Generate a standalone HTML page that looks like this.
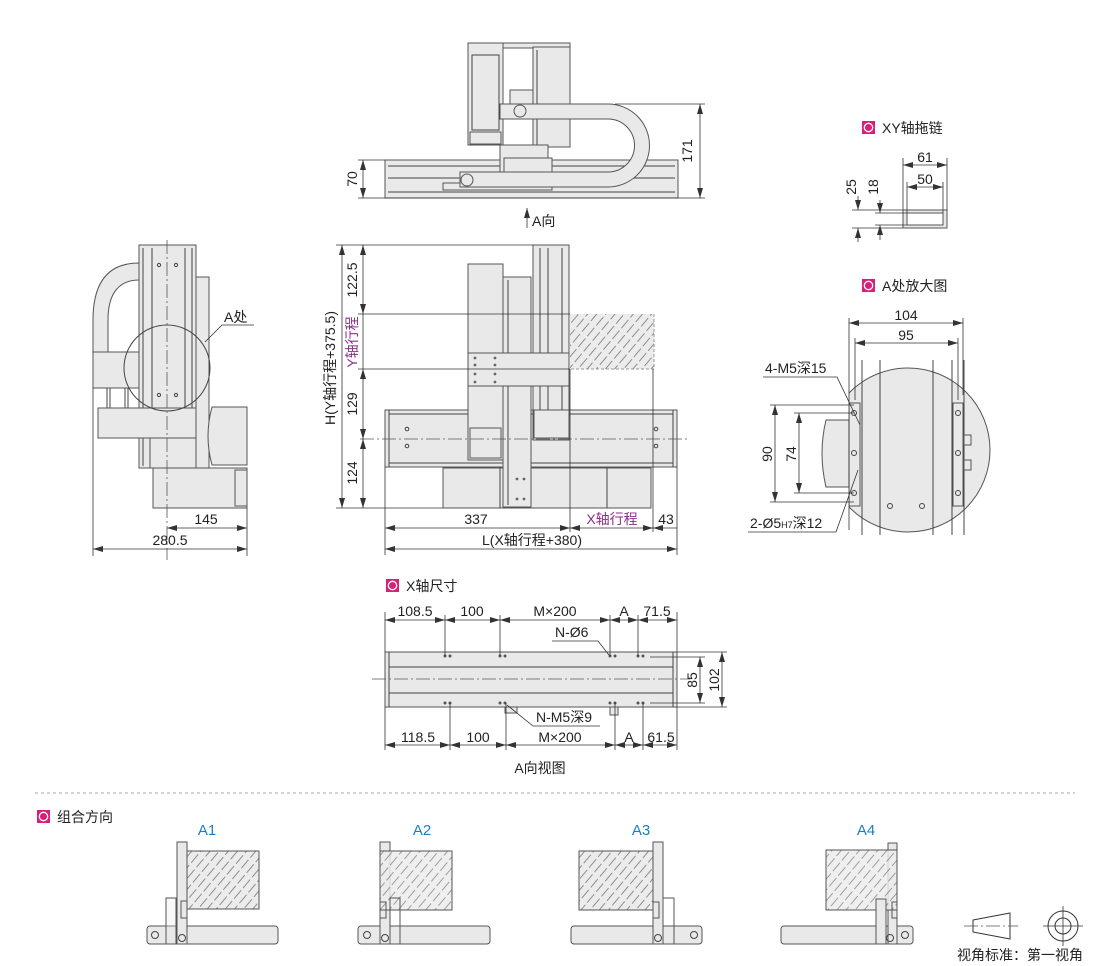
<!DOCTYPE html>
<html><head><meta charset="utf-8">
<style>
html,body{margin:0;padding:0;background:#fff;}
svg{display:block;}
text{font-family:"Liberation Sans","Noto Sans CJK SC",sans-serif;font-size:14px;fill:#222;}
.p{fill:#8b2f8b;}
.b{fill:#1a7fc1;font-size:15px;}
.s{stroke:#444;stroke-width:1;fill:none;}
.f{stroke:#555;stroke-width:1;fill:#e9e9e9;}
.d{stroke:#333;stroke-width:0.8;fill:none;}
.c{stroke:#555;stroke-width:0.8;fill:none;stroke-dasharray:14 3 2 3;}
</style></head><body>
<svg width="1110" height="966" viewBox="0 0 1110 966" xmlns="http://www.w3.org/2000/svg">
<defs>
<marker id="a" viewBox="0 0 10 6" refX="10" refY="3" markerWidth="10" markerHeight="6" orient="auto-start-reverse" markerUnits="userSpaceOnUse"><path d="M0,0L10,3L0,6z" fill="#333"/></marker>
<pattern id="h" width="7" height="14" patternUnits="userSpaceOnUse" patternTransform="rotate(40)"><rect width="7" height="14" fill="#ececec"/><line x1="1" y1="0" x2="1" y2="14" stroke="#666" stroke-width="0.7" stroke-dasharray="6 3"/></pattern>
<g id="tt"><rect width="13" height="13" fill="#d8207a"/><circle cx="6.5" cy="6.5" r="4.2" fill="none" stroke="#fff" stroke-width="1.3"/></g>
</defs>

<!-- ============ TOP VIEW ============ -->
<rect x="385" y="160" width="293" height="38" class="f"/>
<line x1="388" y1="166" x2="675" y2="166" class="s"/>
<line x1="388" y1="178" x2="675" y2="178" class="s"/>
<line x1="388" y1="192" x2="675" y2="192" class="s"/>
<rect x="443" y="183" width="109" height="7" class="f"/>
<rect x="468" y="43" width="102" height="5" class="f"/>
<rect x="468" y="43" width="35" height="102" class="f"/>
<rect x="472" y="55" width="27" height="75" class="s"/>
<rect x="470" y="132" width="31" height="12" class="f"/>
<rect x="533" y="47" width="37" height="100" class="f"/>
<line x1="537" y1="50" x2="537" y2="145" class="s"/>
<rect x="510" y="90" width="23" height="25" class="f"/>
<rect x="500" y="145" width="48" height="27" class="f"/>
<rect x="504" y="158" width="48" height="14" class="f"/>
<path d="M500,104 L608,104 A41.5,41.5 0 0 1 608,187 L460,187 L460,172 L608,172 A26.5,26.5 0 0 0 608,119 L500,119 Z" class="f"/>
<circle cx="520" cy="111" r="6" class="f"/>
<circle cx="467" cy="180" r="6" class="f"/>
<line x1="615" y1="104" x2="705" y2="104" class="d"/>
<line x1="358" y1="198" x2="705" y2="198" class="d"/>
<line x1="358" y1="160" x2="385" y2="160" class="d"/>
<line x1="700" y1="104" x2="700" y2="198" class="d" marker-start="url(#a)" marker-end="url(#a)"/>
<line x1="363" y1="160" x2="363" y2="198" class="d" marker-start="url(#a)" marker-end="url(#a)"/>
<text transform="translate(692,151) rotate(-90)" text-anchor="middle">171</text>
<text transform="translate(357,179) rotate(-90)" text-anchor="middle">70</text>
<line x1="527" y1="228" x2="527" y2="208" class="d" marker-end="url(#a)"/>
<text x="532" y="226">A向</text>

<!-- ============ FRONT VIEW ============ -->
<rect x="570" y="314" width="84" height="55" fill="url(#h)"/>
<path d="M654,314V369H570" stroke="#999" stroke-dasharray="3 2" fill="none"/>
<rect x="385" y="410" width="292" height="57" class="f"/>
<line x1="389" y1="414" x2="673" y2="414" class="s"/>
<line x1="389" y1="463" x2="673" y2="463" class="s"/>
<line x1="389" y1="410" x2="389" y2="467" class="s"/>
<line x1="673" y1="410" x2="673" y2="467" class="s"/>
<rect x="443" y="468" width="208" height="40" class="f"/>
<line x1="607" y1="468" x2="607" y2="508" class="s"/>
<line x1="500" y1="468" x2="500" y2="508" class="s"/>
<rect x="510" y="468" width="21" height="40" class="f"/>
<rect x="533" y="245" width="36" height="195" class="f"/>
<line x1="540" y1="248" x2="540" y2="438" class="s"/>
<line x1="548" y1="248" x2="548" y2="438" class="s"/>
<line x1="562" y1="248" x2="562" y2="438" class="s"/>
<rect x="534" y="410" width="35" height="28" class="f"/>
<rect x="503" y="277" width="28" height="230" class="f"/>
<line x1="508" y1="280" x2="508" y2="505" class="s"/>
<rect x="468" y="264" width="35" height="196" class="f"/>
<rect x="470" y="428" width="31" height="30" class="f"/>
<rect x="468" y="353" width="101" height="33" class="f"/>
<g fill="#666"><circle cx="475" cy="358" r="1.4"/><circle cx="495" cy="358" r="1.4"/><circle cx="475" cy="365" r="1.4"/><circle cx="495" cy="365" r="1.4"/><circle cx="475" cy="374" r="1.4"/><circle cx="495" cy="374" r="1.4"/><circle cx="475" cy="382" r="1.4"/><circle cx="495" cy="382" r="1.4"/>
<circle cx="517" cy="479" r="1.4"/><circle cx="524" cy="479" r="1.4"/><circle cx="517" cy="499" r="1.4"/><circle cx="524" cy="499" r="1.4"/></g>
<g class="s"><circle cx="407" cy="429" r="1.8"/><circle cx="407" cy="446" r="1.8"/><circle cx="656" cy="429" r="1.8"/><circle cx="656" cy="446" r="1.8"/></g>
<line x1="360" y1="439" x2="690" y2="439" class="c"/>
<line x1="336" y1="245" x2="533" y2="245" class="d"/>
<line x1="358" y1="314" x2="570" y2="314" class="d"/>
<line x1="358" y1="369" x2="570" y2="369" class="d"/>
<line x1="336" y1="508" x2="443" y2="508" class="d"/>
<line x1="342" y1="245" x2="342" y2="508" class="d" marker-start="url(#a)" marker-end="url(#a)"/>
<line x1="363" y1="245" x2="363" y2="314" class="d" marker-start="url(#a)" marker-end="url(#a)"/>
<line x1="363" y1="314" x2="363" y2="369" class="d"/>
<line x1="363" y1="369" x2="363" y2="439" class="d" marker-start="url(#a)" marker-end="url(#a)"/>
<line x1="363" y1="439" x2="363" y2="508" class="d" marker-start="url(#a)" marker-end="url(#a)"/>
<text transform="translate(335,368) rotate(-90)" text-anchor="middle">H(Y轴行程+375.5)</text>
<text transform="translate(357,280) rotate(-90)" text-anchor="middle">122.5</text>
<text class="p" transform="translate(357,342) rotate(-90)" text-anchor="middle">Y轴行程</text>
<text transform="translate(357,404) rotate(-90)" text-anchor="middle">129</text>
<text transform="translate(357,473) rotate(-90)" text-anchor="middle">124</text>
<line x1="385" y1="467" x2="385" y2="555" class="d"/>
<line x1="570" y1="369" x2="570" y2="532" class="d"/>
<line x1="653" y1="369" x2="653" y2="532" class="d"/>
<line x1="677" y1="467" x2="677" y2="555" class="d"/>
<line x1="385" y1="528" x2="570" y2="528" class="d" marker-start="url(#a)" marker-end="url(#a)"/>
<line x1="570" y1="528" x2="653" y2="528" class="d" marker-start="url(#a)" marker-end="url(#a)"/>
<line x1="653" y1="528" x2="677" y2="528" class="d" marker-start="url(#a)"/>
<line x1="385" y1="549" x2="677" y2="549" class="d" marker-start="url(#a)" marker-end="url(#a)"/>
<text x="476" y="524" text-anchor="middle">337</text>
<text class="p" x="612" y="524" text-anchor="middle">X轴行程</text>
<text x="666" y="524" text-anchor="middle">43</text>
<text x="532" y="545" text-anchor="middle">L(X轴行程+380)</text>

<!-- ============ SIDE VIEW ============ -->
<path d="M139,263 C110,263 93,280 93,320 L93,352 L108,352 L108,320 C108,292 120,280 139,280 Z" class="f"/>
<rect x="93" y="352" width="46" height="36" class="f"/>
<line x1="107" y1="388" x2="107" y2="408" class="s"/><line x1="110" y1="388" x2="110" y2="408" class="s"/>
<line x1="125" y1="388" x2="125" y2="408" class="s"/><line x1="128" y1="388" x2="128" y2="408" class="s"/>
<rect x="196" y="277" width="13" height="191" class="f"/>
<rect x="139" y="245" width="57" height="223" class="f"/>
<line x1="143" y1="248" x2="143" y2="466" class="s"/>
<line x1="152" y1="248" x2="152" y2="466" class="s"/>
<line x1="185" y1="248" x2="185" y2="466" class="s"/>
<line x1="192" y1="248" x2="192" y2="466" class="s"/>
<rect x="98" y="408" width="98" height="30" class="f"/>
<rect x="150" y="438" width="46" height="30" class="f"/>
<rect x="153" y="468" width="94" height="40" class="f"/>
<rect x="235" y="470" width="12" height="36" class="f"/>
<path d="M212,407 H247 V465 H212 Q204,436 212,407 Z" class="f"/>
<g class="s"><circle cx="159" cy="265" r="1.6"/><circle cx="176" cy="265" r="1.6"/><circle cx="159" cy="395" r="1.6"/><circle cx="176" cy="395" r="1.6"/></g>
<circle cx="167" cy="368" r="43" class="s"/>
<line x1="167" y1="240" x2="167" y2="560" class="c"/>
<path d="M205,342 L222,325 L254,325" class="d"/>
<text x="224" y="322">A处</text>
<line x1="93" y1="388" x2="93" y2="556" class="d"/>
<line x1="247" y1="508" x2="247" y2="556" class="d"/>
<line x1="167" y1="528" x2="247" y2="528" class="d" marker-start="url(#a)" marker-end="url(#a)"/>
<line x1="93" y1="549" x2="247" y2="549" class="d" marker-start="url(#a)" marker-end="url(#a)"/>
<text x="206" y="524" text-anchor="middle">145</text>
<text x="170" y="545" text-anchor="middle">280.5</text>

<!-- ============ XY CHAIN ============ -->
<use href="#tt" x="862" y="121"/>
<text x="882" y="133">XY轴拖链</text>
<rect x="903" y="210" width="44" height="18" class="f"/>
<rect x="907" y="213" width="36" height="12" fill="#fff" stroke="#555"/>
<line x1="903" y1="158" x2="903" y2="210" class="d"/>
<line x1="947" y1="158" x2="947" y2="210" class="d"/>
<line x1="907" y1="182" x2="907" y2="213" class="d"/>
<line x1="943" y1="182" x2="943" y2="213" class="d"/>
<line x1="903" y1="165" x2="947" y2="165" class="d" marker-start="url(#a)" marker-end="url(#a)"/>
<line x1="907" y1="187" x2="943" y2="187" class="d" marker-start="url(#a)" marker-end="url(#a)"/>
<text x="925" y="162" text-anchor="middle">61</text>
<text x="925" y="184" text-anchor="middle">50</text>
<line x1="852" y1="210" x2="903" y2="210" class="d"/>
<line x1="852" y1="228" x2="903" y2="228" class="d"/>
<line x1="875" y1="213" x2="907" y2="213" class="d"/>
<line x1="875" y1="225" x2="907" y2="225" class="d"/>
<line x1="858" y1="196" x2="858" y2="210" class="d" marker-end="url(#a)"/><line x1="858" y1="242" x2="858" y2="228" class="d" marker-end="url(#a)"/>
<line x1="880" y1="200" x2="880" y2="213" class="d" marker-end="url(#a)"/><line x1="880" y1="240" x2="880" y2="225" class="d" marker-end="url(#a)"/>
<text transform="translate(856,187) rotate(-90)" text-anchor="middle">25</text>
<text transform="translate(878,187) rotate(-90)" text-anchor="middle">18</text>

<!-- ============ A DETAIL ============ -->
<use href="#tt" x="862" y="279"/>
<text x="882" y="291">A处放大图</text>
<path d="M849,420 H826 Q818,453 826,487 H849 Z" class="f"/>
<clipPath id="cc"><rect x="849" y="360" width="150" height="175"/></clipPath>
<g clip-path="url(#cc)">
<circle cx="908" cy="450" r="82" class="f"/>
<line x1="862" y1="360" x2="862" y2="535" class="s"/>
<line x1="880" y1="360" x2="880" y2="535" class="s"/>
<line x1="933" y1="360" x2="933" y2="535" class="s"/>
<line x1="952" y1="360" x2="952" y2="535" class="s"/>
<line x1="964" y1="360" x2="964" y2="535" class="s"/>
<rect x="849" y="403" width="11" height="103" class="f"/>
<rect x="953" y="403" width="10" height="103" class="f"/>
<rect x="964" y="435" width="7" height="10" class="f"/><rect x="964" y="460" width="7" height="10" class="f"/>
<g class="s"><circle cx="854" cy="413" r="2.5"/><circle cx="854" cy="453" r="2.5"/><circle cx="854" cy="493" r="2.5"/><circle cx="958" cy="413" r="2.5"/><circle cx="958" cy="453" r="2.5"/><circle cx="958" cy="493" r="2.5"/><circle cx="890" cy="506" r="2.5"/><circle cx="922" cy="506" r="2.5"/></g>
</g>
<line x1="849" y1="318" x2="849" y2="530" class="d"/>
<line x1="963" y1="318" x2="963" y2="395" class="d"/>
<line x1="855" y1="338" x2="855" y2="400" class="d"/>
<line x1="958" y1="338" x2="958" y2="400" class="d"/>
<line x1="849" y1="323" x2="963" y2="323" class="d" marker-start="url(#a)" marker-end="url(#a)"/>
<line x1="855" y1="343" x2="958" y2="343" class="d" marker-start="url(#a)" marker-end="url(#a)"/>
<text x="906" y="320" text-anchor="middle">104</text>
<text x="906" y="340" text-anchor="middle">95</text>
<line x1="770" y1="405" x2="854" y2="405" class="d"/>
<line x1="794" y1="413" x2="854" y2="413" class="d"/>
<line x1="794" y1="493" x2="854" y2="493" class="d"/>
<line x1="770" y1="502" x2="854" y2="502" class="d"/>
<line x1="775" y1="405" x2="775" y2="502" class="d" marker-start="url(#a)" marker-end="url(#a)"/>
<line x1="799" y1="413" x2="799" y2="493" class="d" marker-start="url(#a)" marker-end="url(#a)"/>
<text transform="translate(772,454) rotate(-90)" text-anchor="middle">90</text>
<text transform="translate(796,454) rotate(-90)" text-anchor="middle">74</text>
<text x="765" y="373">4-M5深15</text>
<path d="M763,377 H837 L860,425" class="d"/>
<text x="750" y="528">2-Ø5<tspan font-size="9">H7</tspan>深12</text>
<path d="M748,532 H836 L858,470" class="d"/>

<!-- ============ X AXIS ============ -->
<use href="#tt" x="386" y="579"/>
<text x="406" y="591">X轴尺寸</text>
<rect x="385" y="652" width="292" height="55" class="f"/>
<line x1="389" y1="652" x2="389" y2="707" class="s"/>
<line x1="673" y1="652" x2="673" y2="707" class="s"/>
<line x1="389" y1="667" x2="673" y2="667" class="s"/>
<line x1="389" y1="693" x2="673" y2="693" class="s"/>
<rect x="505" y="707" width="12" height="6" class="f"/><rect x="610" y="707" width="8" height="8" class="f"/>
<line x1="372" y1="679" x2="690" y2="679" class="c"/>
<g fill="#555"><circle cx="445" cy="656" r="1.5"/><circle cx="450" cy="656" r="1.5"/><circle cx="500" cy="656" r="1.5"/><circle cx="505" cy="656" r="1.5"/><circle cx="610" cy="656" r="1.5"/><circle cx="615" cy="656" r="1.5"/><circle cx="638" cy="656" r="1.5"/><circle cx="643" cy="656" r="1.5"/>
<circle cx="445" cy="703" r="1.5"/><circle cx="450" cy="703" r="1.5"/><circle cx="500" cy="703" r="1.5"/><circle cx="505" cy="703" r="1.5"/><circle cx="610" cy="703" r="1.5"/><circle cx="615" cy="703" r="1.5"/><circle cx="638" cy="703" r="1.5"/><circle cx="643" cy="703" r="1.5"/></g>
<g class="d"><line x1="385" y1="612" x2="385" y2="652"/><line x1="445" y1="615" x2="445" y2="656"/><line x1="500" y1="615" x2="500" y2="656"/><line x1="610" y1="615" x2="610" y2="656"/><line x1="638" y1="615" x2="638" y2="656"/><line x1="677" y1="612" x2="677" y2="652"/>
<line x1="385" y1="707" x2="385" y2="750"/><line x1="450" y1="703" x2="450" y2="750"/><line x1="506" y1="703" x2="506" y2="750"/><line x1="615" y1="703" x2="615" y2="750"/><line x1="643" y1="703" x2="643" y2="750"/><line x1="677" y1="707" x2="677" y2="750"/></g>
<g class="d" marker-start="url(#a)" marker-end="url(#a)">
<line x1="385" y1="620" x2="445" y2="620"/><line x1="445" y1="620" x2="500" y2="620"/><line x1="500" y1="620" x2="610" y2="620"/><line x1="610" y1="620" x2="638" y2="620"/><line x1="638" y1="620" x2="677" y2="620"/>
<line x1="385" y1="745" x2="450" y2="745"/><line x1="450" y1="745" x2="506" y2="745"/><line x1="506" y1="745" x2="615" y2="745"/><line x1="615" y1="745" x2="643" y2="745"/><line x1="643" y1="745" x2="677" y2="745"/></g>
<text x="415" y="616" text-anchor="middle">108.5</text>
<text x="472" y="616" text-anchor="middle">100</text>
<text x="555" y="616" text-anchor="middle">M×200</text>
<text x="624" y="616" text-anchor="middle">A</text>
<text x="657" y="616" text-anchor="middle">71.5</text>
<text x="418" y="742" text-anchor="middle">118.5</text>
<text x="478" y="742" text-anchor="middle">100</text>
<text x="560" y="742" text-anchor="middle">M×200</text>
<text x="629" y="742" text-anchor="middle">A</text>
<text x="661" y="742" text-anchor="middle">61.5</text>
<text x="555" y="637">N-Ø6</text>
<path d="M552,641 H598 L609,655" class="d"/>
<text x="536" y="722">N-M5深9</text>
<path d="M600,726 H533 L507,705" class="d"/>
<line x1="650" y1="657" x2="705" y2="657" class="d"/><line x1="650" y1="703" x2="705" y2="703" class="d"/>
<line x1="677" y1="652" x2="727" y2="652" class="d"/><line x1="677" y1="707" x2="727" y2="707" class="d"/>
<line x1="700" y1="657" x2="700" y2="703" class="d" marker-start="url(#a)" marker-end="url(#a)"/>
<line x1="722" y1="652" x2="722" y2="707" class="d" marker-start="url(#a)" marker-end="url(#a)"/>
<text transform="translate(697,680) rotate(-90)" text-anchor="middle">85</text>
<text transform="translate(719,680) rotate(-90)" text-anchor="middle">102</text>
<text x="540" y="773" text-anchor="middle">A向视图</text>

<!-- ============ COMBINATIONS ============ -->
<line x1="35" y1="793" x2="1075" y2="793" stroke="#aaa" stroke-width="1" stroke-dasharray="3 3"/>
<use href="#tt" x="37" y="810"/>
<text x="57" y="822">组合方向</text>

<text class="b" x="207" y="835" text-anchor="middle">A1</text>
<rect x="187" y="851" width="72" height="58" fill="url(#h)" stroke="#555"/>
<rect x="147" y="926" width="131" height="18" rx="3" class="f"/>
<rect x="177" y="842" width="10" height="102" class="f"/>
<rect x="166" y="898" width="10" height="46" class="f" fill-opacity="0.3"/>
<rect x="181" y="901" width="6" height="17" class="f"/>
<circle cx="155" cy="935" r="3.5" class="s"/><circle cx="182" cy="938" r="3.5" class="s"/>

<text class="b" x="422" y="835" text-anchor="middle">A2</text>
<rect x="358" y="926" width="132" height="18" rx="3" class="f"/>
<rect x="380" y="842" width="10" height="102" class="f"/>
<rect x="380" y="851" width="72" height="59" fill="url(#h)" fill-opacity="0.85" stroke="#555"/>
<rect x="390" y="898" width="10" height="46" fill="none" stroke="#555"/>
<rect x="380" y="902" width="6" height="16" fill="none" stroke="#555"/>
<circle cx="367" cy="935" r="3.5" class="s"/><circle cx="385" cy="938" r="3.5" class="s"/>

<text class="b" x="641" y="835" text-anchor="middle">A3</text>
<rect x="579" y="851" width="74" height="59" fill="url(#h)" stroke="#555"/>
<rect x="571" y="926" width="131" height="18" rx="3" class="f"/>
<rect x="653" y="842" width="10" height="102" class="f"/>
<rect x="663" y="898" width="11" height="46" fill="none" stroke="#555"/>
<rect x="653" y="902" width="6" height="16" class="f"/>
<circle cx="694" cy="935" r="3.5" class="s"/><circle cx="658" cy="938" r="3.5" class="s"/>

<text class="b" x="866" y="835" text-anchor="middle">A4</text>
<rect x="781" y="926" width="132" height="18" rx="3" class="f"/>
<rect x="888" y="843" width="9" height="101" class="f"/>
<rect x="826" y="850" width="71" height="60" fill="url(#h)" fill-opacity="0.85" stroke="#555"/>
<rect x="876" y="899" width="10" height="45" class="f"/>
<rect x="892" y="902" width="5" height="16" fill="none" stroke="#555"/>
<circle cx="890" cy="938" r="3.5" class="s"/><circle cx="905" cy="935" r="3.5" class="s"/>

<path d="M973,920 L1010,913 L1010,939 L973,932 Z" fill="none" stroke="#333"/>
<line x1="964" y1="926" x2="1018" y2="926" class="c"/>
<circle cx="1063" cy="926" r="15" fill="none" stroke="#333"/>
<circle cx="1063" cy="926" r="8" fill="none" stroke="#333"/>
<line x1="1043" y1="926" x2="1083" y2="926" class="d"/>
<line x1="1063" y1="906" x2="1063" y2="946" class="d"/>
<text x="957" y="960" font-size="15">视角标准：第一视角</text>
</svg>
</body></html>
